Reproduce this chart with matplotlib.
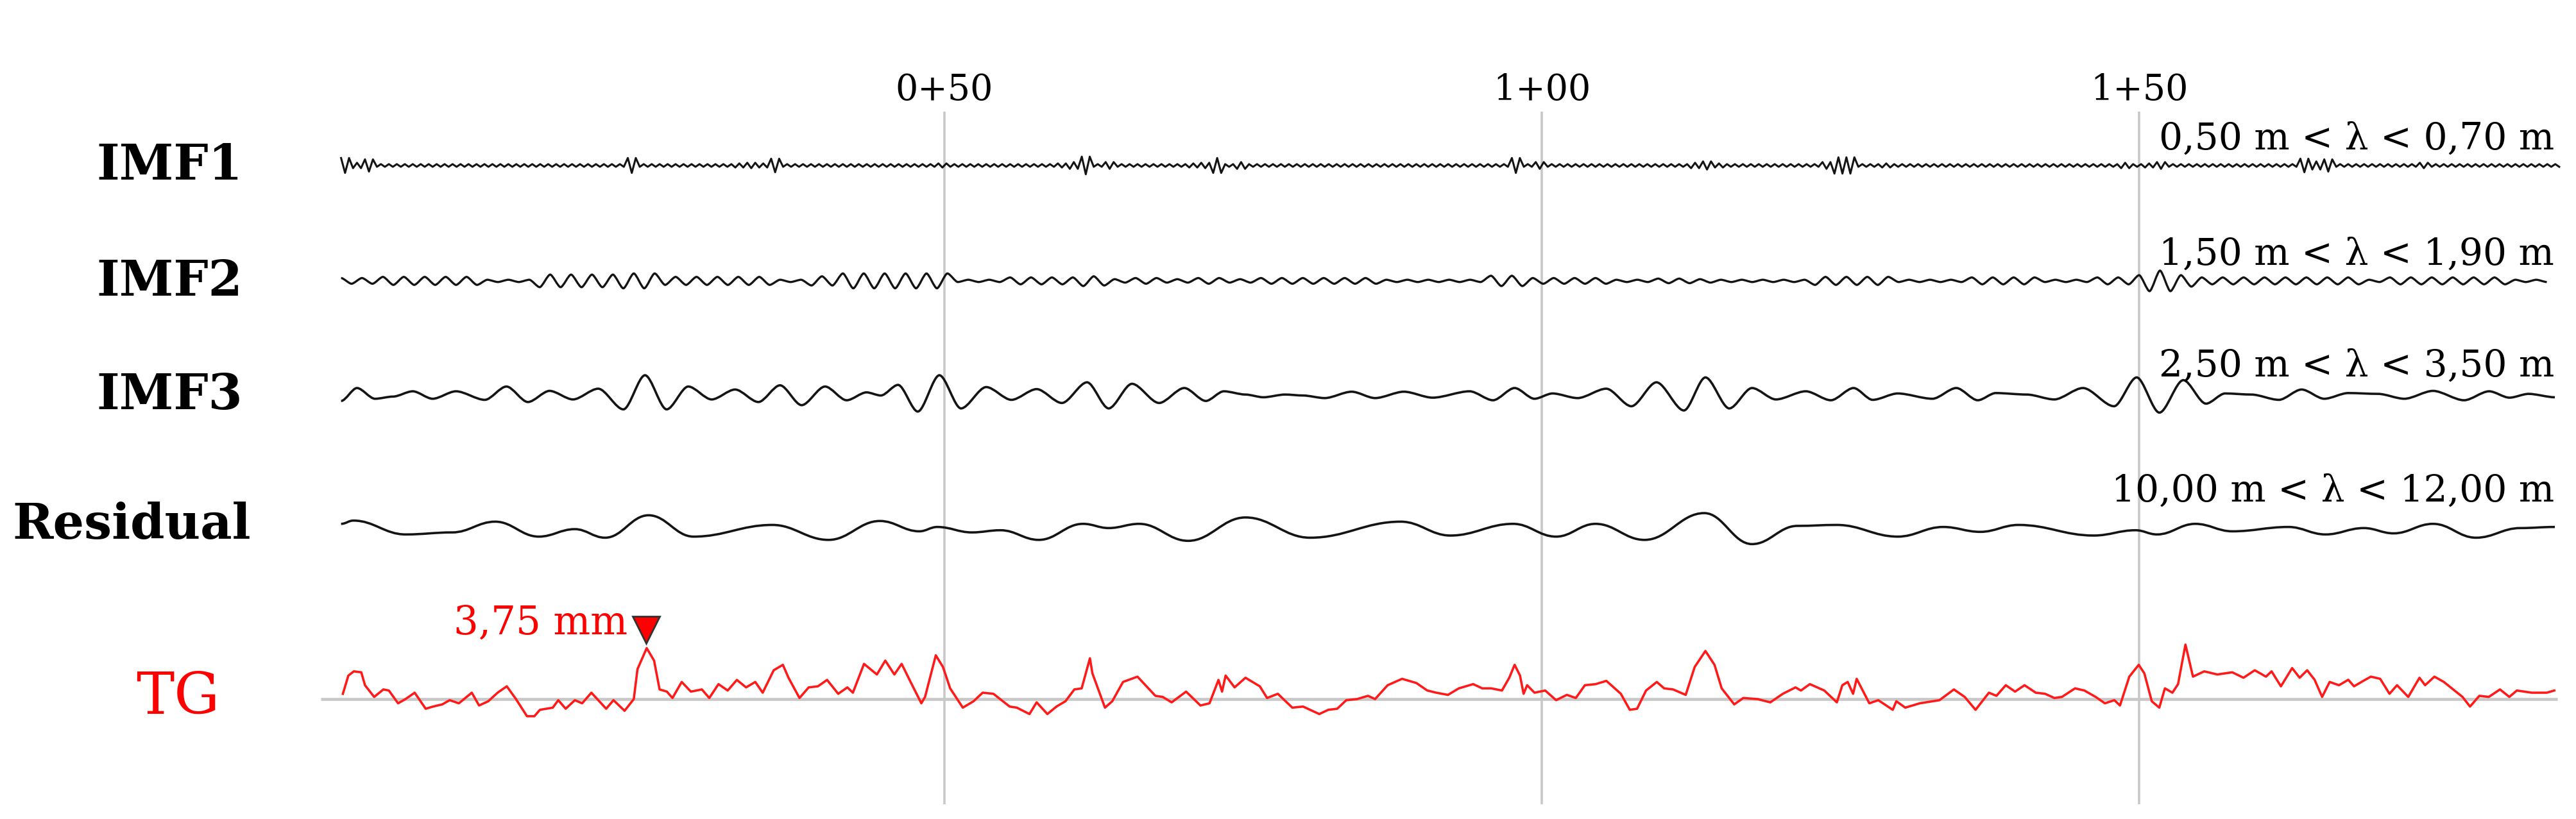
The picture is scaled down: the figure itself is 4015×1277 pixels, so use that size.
import numpy as np
import matplotlib.pyplot as plt
from matplotlib.path import Path
from matplotlib.patches import PathPatch

plt.rcParams['font.family'] = ['DejaVu Serif']

# chainage (m) and signals (mm)
# IMF1 / IMF2: envelope of the oscillation, one value per metre, units of 0.05 mm
imf1_amp = [11, 4, 9, 2, 2, 2, 2, 2, 2, 2,
            2, 2, 2, 2, 2, 2, 2, 2, 2, 2,
            2, 2, 2, 2, 11, 2, 2, 2, 2, 2,
            2, 2, 2, 3, 4, 3, 10, 2, 2, 2,
            2, 2, 2, 2, 2, 2, 2, 2, 2, 2,
            3, 2, 2, 2, 2, 2, 2, 2, 2, 2,
            3, 5, 13, 2, 5, 2, 2, 2, 2, 2,
            2, 3, 4, 11, 2, 5, 2, 2, 2, 2,
            2, 2, 2, 2, 2, 2, 2, 2, 2, 2,
            2, 2, 2, 2, 2, 2, 2, 2, 11, 2,
            5, 2, 2, 2, 2, 2, 2, 2, 2, 2,
            2, 2, 2, 4, 6, 3, 2, 2, 2, 2,
            2, 2, 2, 2, 5, 12, 12, 2, 2, 3,
            2, 2, 2, 2, 2, 2, 2, 2, 2, 2,
            2, 2, 2, 2, 2, 2, 2, 2, 2, 4,
            2, 3, 5, 2, 2, 2, 2, 2, 2, 2,
            2, 2, 2, 2, 10, 6, 9, 2, 2, 2,
            2, 2, 2, 2, 4, 2, 2, 2, 2, 2,
            2, 2, 2, 2, 2, 2]
imf2_amp = [5, 5, 5, 7, 7, 7, 7, 7, 7, 7,
            7, 7, 2, 2, 2, 2, 11, 11, 11, 11,
            11, 11, 11, 13, 13, 13, 13, 7, 7, 7,
            7, 7, 7, 7, 7, 7, 2, 2, 2, 8,
            8, 8, 13, 13, 13, 13, 13, 13, 13, 13,
            13, 2, 2, 2, 2, 2, 6, 6, 6, 6,
            6, 6, 9, 8, 3, 3, 5, 5, 5, 3,
            3, 5, 5, 5, 3, 3, 3, 5, 5, 5,
            5, 5, 5, 5, 5, 5, 5, 2, 2, 2,
            2, 2, 2, 2, 2, 2, 9, 9, 9, 5,
            5, 5, 5, 5, 5, 5, 2, 2, 2, 2,
            4, 4, 4, 3, 3, 2, 2, 2, 2, 2,
            2, 2, 2, 7, 7, 7, 7, 7, 7, 7,
            2, 2, 2, 2, 2, 2, 6, 6, 6, 6,
            6, 6, 2, 2, 2, 2, 2, 6, 6, 6,
            10, 18, 18, 18, 10, 6, 6, 6, 6, 6,
            6, 6, 6, 6, 6, 6, 6, 6, 6, 2,
            2, 6, 6, 6, 6, 6, 6, 6, 6, 6,
            6, 6, 2, 2, 2, 2]

# IMF3 and residual: extrema (m, mm)
imf3_x = [-0.5, 0.83, 2.34, 3.84, 5.5, 7.16, 9.12, 11.53, 13.34, 15.14, 16.95, 18.91,
          21.02, 23.13, 24.94, 26.75, 28.56, 30.52, 32.48, 34.43, 36.24, 38.05, 40.01,
          41.82, 43.48, 44.68, 46.12, 47.77, 49.58, 51.39, 53.5, 55.61, 57.72, 59.83,
          61.94, 63.75, 65.7, 67.97, 70.08, 71.88, 73.39, 75.2, 76.7, 78.51, 80.02,
          81.83, 84.09, 86.05, 88.46, 90.87, 93.96, 95.92, 97.73, 99.39, 100.9, 103.0,
          105.4, 107.5, 109.6, 111.9, 113.7, 115.7, 117.6, 119.6, 122.1, 124.2, 126.1,
          127.7, 129.8, 132.7, 134.7, 136.5, 138.0, 140.6, 142.9, 145.3, 147.9, 149.8,
          151.7, 153.7, 155.6, 157.2, 159.4, 161.7, 163.6, 165.5, 167.5, 170.0, 172.2,
          174.6, 177.2, 179.3, 181.0, 182.6, 184.8]
imf3_mm = [-0.38, 0.57, -0.22, -0.06, 0.33, -0.22, 0.33, -0.3, 0.68, -0.46, 0.36, -0.27,
           0.52, -1.0, 1.51, -1.0, 0.68, -0.27, 0.46, -0.46, 0.77, -0.69, 0.68,
           -0.33, 0.25, 0.02, 0.8, -1.16, 1.51, -0.93, 0.64, -0.3, 0.49, -0.53,
           0.99, -0.93, 0.88, -0.53, 0.57, -0.38, 0.33, 0.09, -0.11, 0.09, 0.02,
           -0.17, 0.3, -0.17, 0.3, -0.14, 0.33, -0.33, 0.57, -0.22, 0.17, -0.17,
           0.52, -0.77, 0.99, -1.08, 1.35, -0.93, 0.57, -0.27, 0.33, -0.33, 0.57,
           -0.3, 0.17, -0.22, 0.57, -0.33, 0.2, 0.09, -0.27, 0.57, -0.77, 1.35,
           -1.24, 1.15, -0.58, 0.17, 0.09, -0.3, 0.46, -0.22, 0.2, 0.14, -0.22,
           0.36, -0.33, 0.33, -0.14, 0.14, -0.11]

res_x = [-0.5, 0.53, 4.9, 8.8, 12.4, 16.05, 19.06, 21.6, 25.24, 29.0, 35.6, 40.3, 44.6,
         47.9, 49.4, 52.3, 54.7, 57.9, 61.6, 63.75, 66.3, 70.4, 75.2, 80.6, 88.2, 92.35,
         97.6, 101.2, 104.5, 108.6, 113.6, 117.6, 121.4, 124.7, 129.8, 133.6, 136.7,
         139.9, 146.2, 149.7, 151.5, 154.7, 157.8, 162.5, 165.6, 168.8, 171.3, 174.6,
         178.2, 181.9, 184.8]
res_mm = [0.39, 0.63, -0.39, -0.24, 0.55, -0.55, 0.0, -0.63, 1.02, -0.55, 0.31, -0.79, 0.6,
          -0.16, 0.16, -0.24, -0.08, -0.79, 0.39, 0.08, 0.39, -0.86, 0.86, -0.63, 0.55, -0.47,
          0.39, -0.55, 0.39, -0.79, 1.18, -1.1, 0.24, 0.31, -0.55, 0.16, -0.2,
          0.31, -0.47, -0.08, -0.39, 0.39, -0.16, 0.16, -0.39, 0.08, -0.31, 0.39,
          -0.63, 0.08, 0.16]

# track geometry (TG) profile
tg_x = [-0.35, 0.11, 0.57, 1.19, 1.5, 2.27, 3.04, 3.5, 4.27, 4.89, 5.66, 6.58, 7.2, 7.97,
        8.59, 9.36, 10.44, 11.05, 11.82, 12.6, 13.37, 14.14, 15.06, 15.68, 16.14, 17.22,
        17.68, 18.3, 19.07, 19.68, 20.45, 21.69, 22.3, 23.23, 24.0, 24.31, 25.08, 25.7,
        26.16, 26.77, 27.24, 28.01, 28.78, 29.7, 30.32, 31.09, 31.86, 32.63, 33.4, 34.17,
        34.79, 35.71, 36.48, 36.95, 37.87, 38.64, 39.41, 40.18, 41.11, 41.88, 42.34, 43.27,
        44.35, 45.05, 45.81, 46.42, 47.17, 48.07, 48.38, 49.28, 49.88, 50.48, 51.54, 52.44,
        53.2, 54.1, 55.46, 56.06, 57.12, 57.72, 58.62, 59.38, 60.13, 60.88, 61.49, 62.18,
        62.39, 63.44, 64.05, 64.95, 66.16, 67.66, 68.27, 69.02, 70.23, 71.43, 72.19, 72.94,
        73.24, 73.54, 74.29, 75.2, 76.4, 77.01, 77.91, 79.12, 80.02, 81.38, 82.13, 82.88,
        83.64, 84.54, 85.45, 86.05, 87.1, 88.31, 89.51, 90.42, 91.17, 92.15, 93.06, 94.26,
        95.02, 95.77, 96.67, 97.28, 97.73, 98.18, 98.48, 98.78, 99.39, 100.29, 101.2,
        102.1, 102.85, 103.61, 104.51, 105.41, 106.62, 107.37, 107.98, 108.73, 109.63,
        110.24, 110.99, 112.05, 112.8, 113.7, 114.46, 115.06, 116.11, 116.87, 118.07,
        119.13, 120.18, 121.24, 121.69, 122.44, 123.65, 124.7, 125.16, 125.61, 126.06,
        126.36, 127.42, 128.17, 129.38, 129.68, 130.43, 131.64, 133.29, 134.5, 135.4,
        136.31, 137.43, 138.06, 138.84, 139.62, 140.41, 141.35, 142.13, 142.91, 143.54,
        144.64, 145.42, 146.36, 147.14, 147.93, 148.4, 149.18, 149.97, 150.44, 151.06,
        151.69, 152.16, 152.79, 153.26, 153.88, 154.51, 155.45, 156.55, 157.8, 158.74,
        159.68, 160.62, 161.09, 161.87, 162.81, 163.44, 164.07, 164.69, 165.32, 165.95,
        166.73, 167.51, 167.99, 168.77, 169.4, 170.18, 170.96, 171.59, 172.53, 173.47,
        173.94, 174.72, 175.51, 176.29, 177.07, 177.7, 178.48, 179.27, 180.21, 180.99,
        181.62, 182.87, 184.12, 184.75]
tg_mm = [0.39, 1.73, 2.04, 1.97, 1.02, 0.16, 0.71, 0.63, -0.31, 0.0, 0.47, -0.71, -0.55, -0.39,
         -0.08, -0.31, 0.47, -0.47, -0.16, 0.47, 0.94, 0.0, -1.26, -1.26, -0.79, -0.63,
         -0.08, -0.71, -0.08, -0.31, 0.47, -0.71, -0.08, -0.86, 0.0, 2.2, 3.75, 2.83,
         0.71, 0.55, 0.08, 1.26, 0.55, 0.71, 0.08, 1.1, 0.63, 1.41, 0.86, 1.26,
         0.47, 2.12, 2.52, 1.57, 0.08, 0.86, 0.94, 1.41, 0.39, 0.86, 0.47, 2.59,
         1.81, 2.83, 1.81, 2.59, 1.26, -0.31, 0.16, 3.22, 2.36, 0.79, -0.63, -0.16,
         0.47, 0.39, -0.55, -0.63, -1.1, -0.24, -1.1, -0.55, -0.16, 0.71, 0.79, 3.0,
         1.89, -0.63, -0.16, 1.26, 1.65, 0.24, 0.16, -0.24, 0.55, -0.47, -0.31, 1.41,
         0.55, 1.73, 0.86, 1.57, 0.94, 0.08, 0.39, -0.63, -0.55, -1.1, -0.79, -0.71,
         -0.08, 0.0, 0.24, 0.0, 1.02, 1.49, 1.18, 0.63, 0.47, 0.31, 0.79, 1.1,
         0.79, 0.79, 0.63, 1.57, 2.52, 1.73, 0.39, 1.02, 0.47, 0.63, -0.08,
         0.31, 0.08, 1.02, 1.1, 1.34, 0.39, -0.79, -0.71, 0.63, 1.26,
         0.79, 0.71, 0.31, 2.36, 3.54, 2.52, 0.79, -0.39, 0.08, 0.0,
         -0.24, 0.39, 0.86, 0.63, 1.1, 0.63, -0.24, 1.02, 1.26, 0.39,
         1.49, -0.31, -0.08, -0.79, -0.16, -0.63, -0.31, -0.08, 0.71, 0.16,
         -0.79, 0.47, 0.24, 1.02, 0.55, 1.02, 0.47, 0.39, 0.08, 0.16,
         0.79, 0.63, 0.16, -0.31, -0.08, -0.47, 1.65, 2.52, 1.89, -0.16,
         -0.63, 0.79, 0.47, 1.1, 4.01, 1.65, 2.04, 1.81, 1.97, 1.57,
         2.12, 1.65, 2.04, 0.94, 2.28, 1.57, 2.12, 1.42, 0.16, 1.26,
         1.02, 1.42, 0.94, 1.34, 1.65, 1.49, 0.39, 1.02, 0.16, 1.57,
         1.02, 1.65, 1.26, 0.71, 0.16, -0.55, 0.24, 0.16, 0.71, 0.16,
         0.63, 0.47, 0.47, 0.63]
tg_peak_x = 25.08
tg_peak_label = '3,75 mm'

row_names = ['IMF1', 'IMF2', 'IMF3', 'Residual', 'TG']
band_labels = ['0,50 m < λ < 0,70 m', '1,50 m < λ < 1,90 m',
               '2,50 m < λ < 3,50 m', '10,00 m < λ < 12,00 m']
tick_pos = [50, 100, 150]
tick_labels = ['0+50', '1+00', '1+50']

W, H = 4015, 1277
fig = plt.figure(figsize=(W / 100, H / 100), dpi=100)
ax = fig.add_axes([0, 0, 1, 1])
ax.set_xlim(-29.05, 186.57)
ax.set_ylim(0, 60.24)
ax.axis('off')

# baseline of each row, in mm from the bottom
base = [48.07, 39.58, 31.13, 21.32, 8.82]
ink = '#141414'


def smooth(xs, ys, k=0.36):
    xs, ys = np.asarray(xs), np.asarray(ys)
    verts = [(xs[0], ys[0])]
    codes = [Path.MOVETO]
    for i in range(1, len(xs)):
        d = xs[i] - xs[i - 1]
        verts += [(xs[i - 1] + k * d, ys[i - 1]), (xs[i] - k * d, ys[i]), (xs[i], ys[i])]
        codes += [Path.CURVE4] * 3
    return Path(verts, codes)


# grid
ax.vlines(tick_pos, 1.08, 52.03, color='#c8c8c8', lw=2.6, zorder=0)
ax.hlines(base[4], -2.2, 185.0, color='#c8c8c8', lw=3.4, zorder=0)
for p, t in zip(tick_pos, tick_labels):
    ax.text(p, 53.6, t, ha='center', va='center', fontsize=40)

# IMF1
n1 = len(imf1_amp) * 3
x1 = -0.5 + np.arange(n1) / 3
y1 = np.repeat(imf1_amp, 3) * 0.05 * (-1) ** np.arange(n1)
ax.plot(x1, base[0] + y1, color=ink, lw=2.2)

# IMF2
x2 = np.arange(-0.5, 185.0, 0.875)
idx = np.clip(np.floor(x2 + 0.5).astype(int), 0, len(imf2_amp) - 1)
y2 = np.array(imf2_amp)[idx] * 0.042 * (-1) ** np.arange(len(x2))
ax.add_patch(PathPatch(smooth(x2, base[1] + y2, 0.25), fill=False, ec=ink, lw=2.4))

# IMF3, residual
ax.add_patch(PathPatch(smooth(imf3_x, np.array(imf3_mm) + base[2], 0.3),
                       fill=False, ec=ink, lw=2.6))
ax.add_patch(PathPatch(smooth(res_x, np.array(res_mm) + base[3], 0.4),
                       fill=False, ec=ink, lw=2.6))

# TG
ax.plot(tg_x, np.array(tg_mm) + base[4], color='#ff1a1a', lw=2.6)
pk = tg_x.index(tg_peak_x)
ax.plot(tg_peak_x - 0.05, base[4] + tg_mm[pk] + 1.35, marker='v', ms=30,
        mfc='#ff0000', mec='#333333', mew=2)
ax.text(tg_peak_x - 1.6, base[4] + tg_mm[pk] + 1.05, tg_peak_label, ha='right',
        va='baseline', fontsize=44, color='#ff0000')

# band annotations
for lab, yb in zip(band_labels, [233, 413, 587, 782]):
    fig.text(3981 / W, 1 - yb / H, lab, ha='right', va='baseline', fontsize=42)

# row names
name_pos = [(264, 259), (264, 440), (264, 617), (205, 819), (277, 1088)]
for name, (px, py) in zip(row_names, name_pos):
    if name == 'TG':
        fig.text(px / W, 1 - py / H, name, ha='center', va='center', fontsize=64,
                 color='#ff0000')
    else:
        fig.text(px / W, 1 - py / H, name, ha='center', va='center', fontsize=55,
                 fontweight='bold')

fig.savefig('out.png', dpi=100)
